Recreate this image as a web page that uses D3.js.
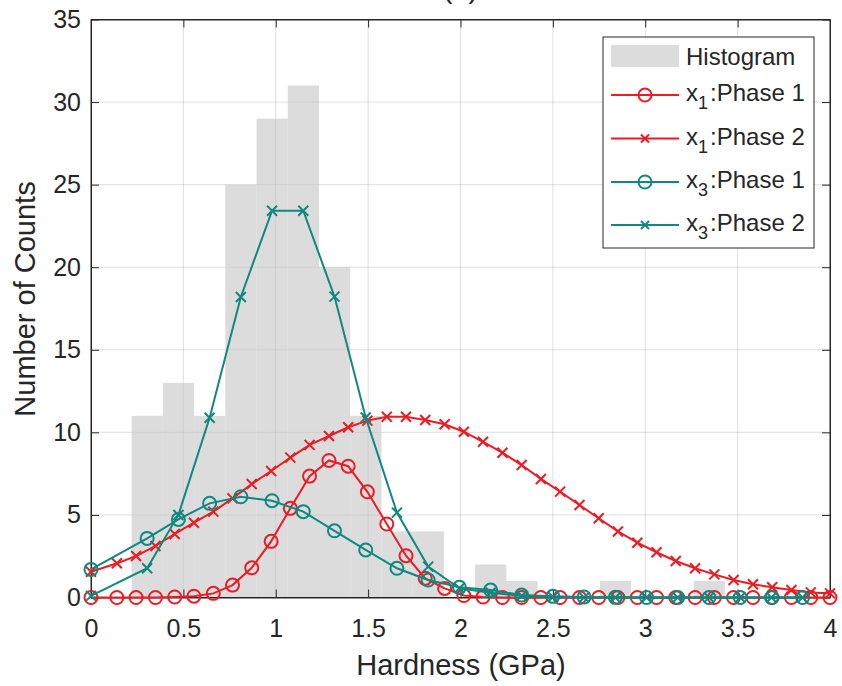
<!DOCTYPE html>
<html>
<head>
<meta charset="utf-8">
<script src="https://cdn.jsdelivr.net/npm/d3@7"></script>
<style>
body { margin: 0; background: #fff; }
text { font-family: "Liberation Sans", Arial, sans-serif; fill: #262626; }
</style>
</head>
<body>
<script>
// histogram of hardness values
var binEdges = [0.22, 0.389, 0.558, 0.727, 0.896, 1.065, 1.234, 1.403, 1.572, 1.741, 1.910,
  2.079, 2.248, 2.417, 2.586, 2.755, 2.924, 3.093, 3.262, 3.431, 3.600, 3.769, 3.938];
var binCounts = [11, 13, 11, 25, 29, 31, 20, 11, 4, 4, 0, 2, 1, 0, 0, 1, 0, 0, 1, 0, 0, 0];

// x1 fits
var x1Grid = [0, 0.14, 0.244, 0.349, 0.453, 0.557, 0.662, 0.766, 0.870, 0.975, 1.079, 1.183,
  1.288, 1.392, 1.496, 1.601, 1.705, 1.809, 1.914, 2.018, 2.122, 2.227, 2.331, 2.435, 2.539,
  2.644, 2.748, 2.852, 2.957, 3.061, 3.165, 3.270, 3.374, 3.478, 3.583, 3.687, 3.791, 3.896, 4.0];
var x1Phase1 = [0, 0, 0, 0, 0.03, 0.08, 0.25, 0.75, 1.8, 3.4, 5.4, 7.35, 8.3, 7.95, 6.4,
  4.45, 2.53, 1.16, 0.55, 0.12, 0.03, 0, 0, 0, 0, 0, 0, 0, 0, 0, 0, 0, 0, 0, 0, 0, 0, 0, 0];
var x1Phase2 = [1.56, 2.07, 2.51, 3.12, 3.85, 4.53, 5.2, 6.0, 6.87, 7.66, 8.47, 9.24, 9.78,
  10.31, 10.71, 10.95, 10.95, 10.75, 10.49, 10.04, 9.43, 8.77, 8.02, 7.18, 6.41, 5.6, 4.8,
  4.0, 3.32, 2.74, 2.21, 1.77, 1.4, 1.06, 0.8, 0.62, 0.45, 0.31, 0.25];

// x3 fits (evaluated at bin centres)
var x3Grid = [0, 0.304, 0.473, 0.642, 0.811, 0.980, 1.149, 1.318, 1.487, 1.656, 1.825, 1.994,
  2.163, 2.331, 2.500, 2.669, 2.838, 3.007, 3.176, 3.345, 3.514, 3.683, 3.852];
var x3Phase1 = [1.7, 3.58, 4.73, 5.7, 6.1, 5.86, 5.2, 4.04, 2.88, 1.77, 1.06, 0.62, 0.45,
  0.15, 0.07, 0.03, 0.01, 0, 0, 0, 0, 0, 0];
var x3Phase2 = [0.1, 1.77, 5.0, 10.88, 18.2, 23.42, 23.42, 18.22, 10.9, 5.14, 1.87, 0.56,
  0.29, 0.1, 0.03, 0, 0, 0, 0, 0, 0, 0, 0];

var xTicks = [0, 0.5, 1, 1.5, 2, 2.5, 3, 3.5, 4];
var yTicks = [0, 5, 10, 15, 20, 25, 30, 35];

var red = "#eb1c24", teal = "#0e8880", barGray = "#c4c4c4", ink = "#262626";

var svg = d3.select("body").append("svg")
  .attr("width", 842)
  .attr("height", 686);

var x = d3.scaleLinear().domain([0, 4]).range([91, 830]);
var y = d3.scaleLinear().domain([0, 35]).range([597.5, 19.5]);

// title, mostly cut off at the top like in the source figure
svg.append("text")
  .attr("x", 460.5).attr("y", -2)
  .attr("text-anchor", "middle")
  .style("font-size", "29px")
  .text("(b)");

// grid
var grid = svg.append("g").attr("stroke", ink).attr("stroke-opacity", 0.15).attr("stroke-width", 1);
grid.selectAll(".vg").data(xTicks.slice(1, -1)).enter().append("line")
  .attr("x1", function(d){ return x(d); }).attr("x2", function(d){ return x(d); })
  .attr("y1", y(0)).attr("y2", y(35));
grid.selectAll(".hg").data(yTicks.slice(1, -1)).enter().append("line")
  .attr("y1", function(d){ return y(d); }).attr("y2", function(d){ return y(d); })
  .attr("x1", x(0)).attr("x2", x(4));

// histogram bars
svg.append("g").selectAll("rect").data(binCounts).enter().append("rect")
  .attr("x", function(d, i){ return x(binEdges[i]); })
  .attr("width", function(d, i){ return x(binEdges[i + 1]) - x(binEdges[i]); })
  .attr("y", function(d){ return y(d); })
  .attr("height", function(d){ return y(0) - y(d); })
  .attr("fill", barGray)
  .attr("fill-opacity", 0.6);

// axes, ticks inside like matlab
var fmt = function(d){ return String(d); };
svg.append("g").attr("transform", "translate(0," + y(0) + ")")
  .call(d3.axisBottom(x).tickValues(xTicks).tickFormat(fmt).tickSize(-8).tickSizeOuter(0).tickPadding(22));
svg.append("g").attr("transform", "translate(" + x(0) + ",0)")
  .call(d3.axisLeft(y).tickValues(yTicks).tickFormat(fmt).tickSize(-8).tickSizeOuter(0).tickPadding(10));
svg.append("g").attr("transform", "translate(0," + y(35) + ")")
  .call(d3.axisTop(x).tickValues(xTicks).tickFormat("").tickSize(-8).tickSizeOuter(0));
svg.append("g").attr("transform", "translate(" + x(4) + ",0)")
  .call(d3.axisRight(y).tickValues(yTicks).tickFormat("").tickSize(-8).tickSizeOuter(0));

svg.selectAll(".tick line").attr("stroke", ink);
svg.selectAll(".domain").attr("stroke", ink);
svg.selectAll(".tick text").style("font-size", "25px").attr("fill", ink);

svg.append("rect")
  .attr("x", x(0)).attr("y", y(35))
  .attr("width", x(4) - x(0)).attr("height", y(0) - y(35))
  .attr("fill", "none").attr("stroke", ink);

// axis labels
svg.append("text")
  .attr("x", 461).attr("y", 675)
  .attr("text-anchor", "middle")
  .style("font-size", "29px")
  .text("Hardness (GPa)");
svg.append("text")
  .attr("transform", "translate(35,299) rotate(-90)")
  .attr("text-anchor", "middle")
  .style("font-size", "29px")
  .text("Number of Counts");

// series
var xMark = "M-5,-5L5,5M-5,5L5,-5";
var series = [
  {xs: x1Grid, ys: x1Phase1, color: red, marker: "o", name: ["1", "Phase 1"]},
  {xs: x1Grid, ys: x1Phase2, color: red, marker: "x", name: ["1", "Phase 2"]},
  {xs: x3Grid, ys: x3Phase1, color: teal, marker: "o", name: ["3", "Phase 1"]},
  {xs: x3Grid, ys: x3Phase2, color: teal, marker: "x", name: ["3", "Phase 2"]}
];

var line = d3.line()
  .x(function(d){ return x(d[0]); })
  .y(function(d){ return y(d[1]); });

series.forEach(function(s){
  var pts = s.xs.map(function(v, i){ return [v, s.ys[i]]; });
  var g = svg.append("g");
  g.append("path").datum(pts)
    .attr("d", line)
    .attr("fill", "none")
    .attr("stroke", s.color)
    .attr("stroke-width", 2);
  if (s.marker === "o") {
    g.selectAll("circle").data(pts).enter().append("circle")
      .attr("cx", function(d){ return x(d[0]); })
      .attr("cy", function(d){ return y(d[1]); })
      .attr("r", 6.5)
      .attr("fill", "none")
      .attr("stroke", s.color)
      .attr("stroke-width", 2);
  } else {
    g.selectAll(".mk").data(pts).enter().append("path")
      .attr("d", xMark)
      .attr("transform", function(d){ return "translate(" + x(d[0]) + "," + y(d[1]) + ")"; })
      .attr("fill", "none")
      .attr("stroke", s.color)
      .attr("stroke-width", 2);
  }
});

// legend
var lg = svg.append("g");
lg.append("rect")
  .attr("x", 603).attr("y", 37)
  .attr("width", 211).attr("height", 211)
  .attr("fill", "#fff").attr("stroke", ink);
lg.append("rect")
  .attr("x", 611).attr("y", 45).attr("width", 68).attr("height", 22)
  .attr("fill", barGray).attr("fill-opacity", 0.6);
lg.append("text")
  .attr("x", 686).attr("y", 65)
  .style("font-size", "24px")
  .text("Histogram");

var rowY = [95, 138.5, 182, 225];
series.forEach(function(s, i){
  var cy = rowY[i];
  lg.append("line")
    .attr("x1", 611).attr("x2", 679).attr("y1", cy).attr("y2", cy)
    .attr("stroke", s.color).attr("stroke-width", 2);
  if (s.marker === "o") {
    lg.append("circle").attr("cx", 645).attr("cy", cy).attr("r", 6.5)
      .attr("fill", "none").attr("stroke", s.color).attr("stroke-width", 2);
  } else {
    lg.append("path").attr("d", "M-4,-4L4,4M-4,4L4,-4")
      .attr("transform", "translate(645," + cy + ")")
      .attr("fill", "none").attr("stroke", s.color).attr("stroke-width", 2);
  }
  var t = lg.append("text").attr("x", 686).attr("y", cy + 6).style("font-size", "24px");
  t.append("tspan").text("x");
  t.append("tspan").attr("dy", 8).style("font-size", "18px").text(s.name[0]);
  t.append("tspan").attr("dy", -8).attr("dx", 2).text(":" + s.name[1]);
});
</script>
</body>
</html>
